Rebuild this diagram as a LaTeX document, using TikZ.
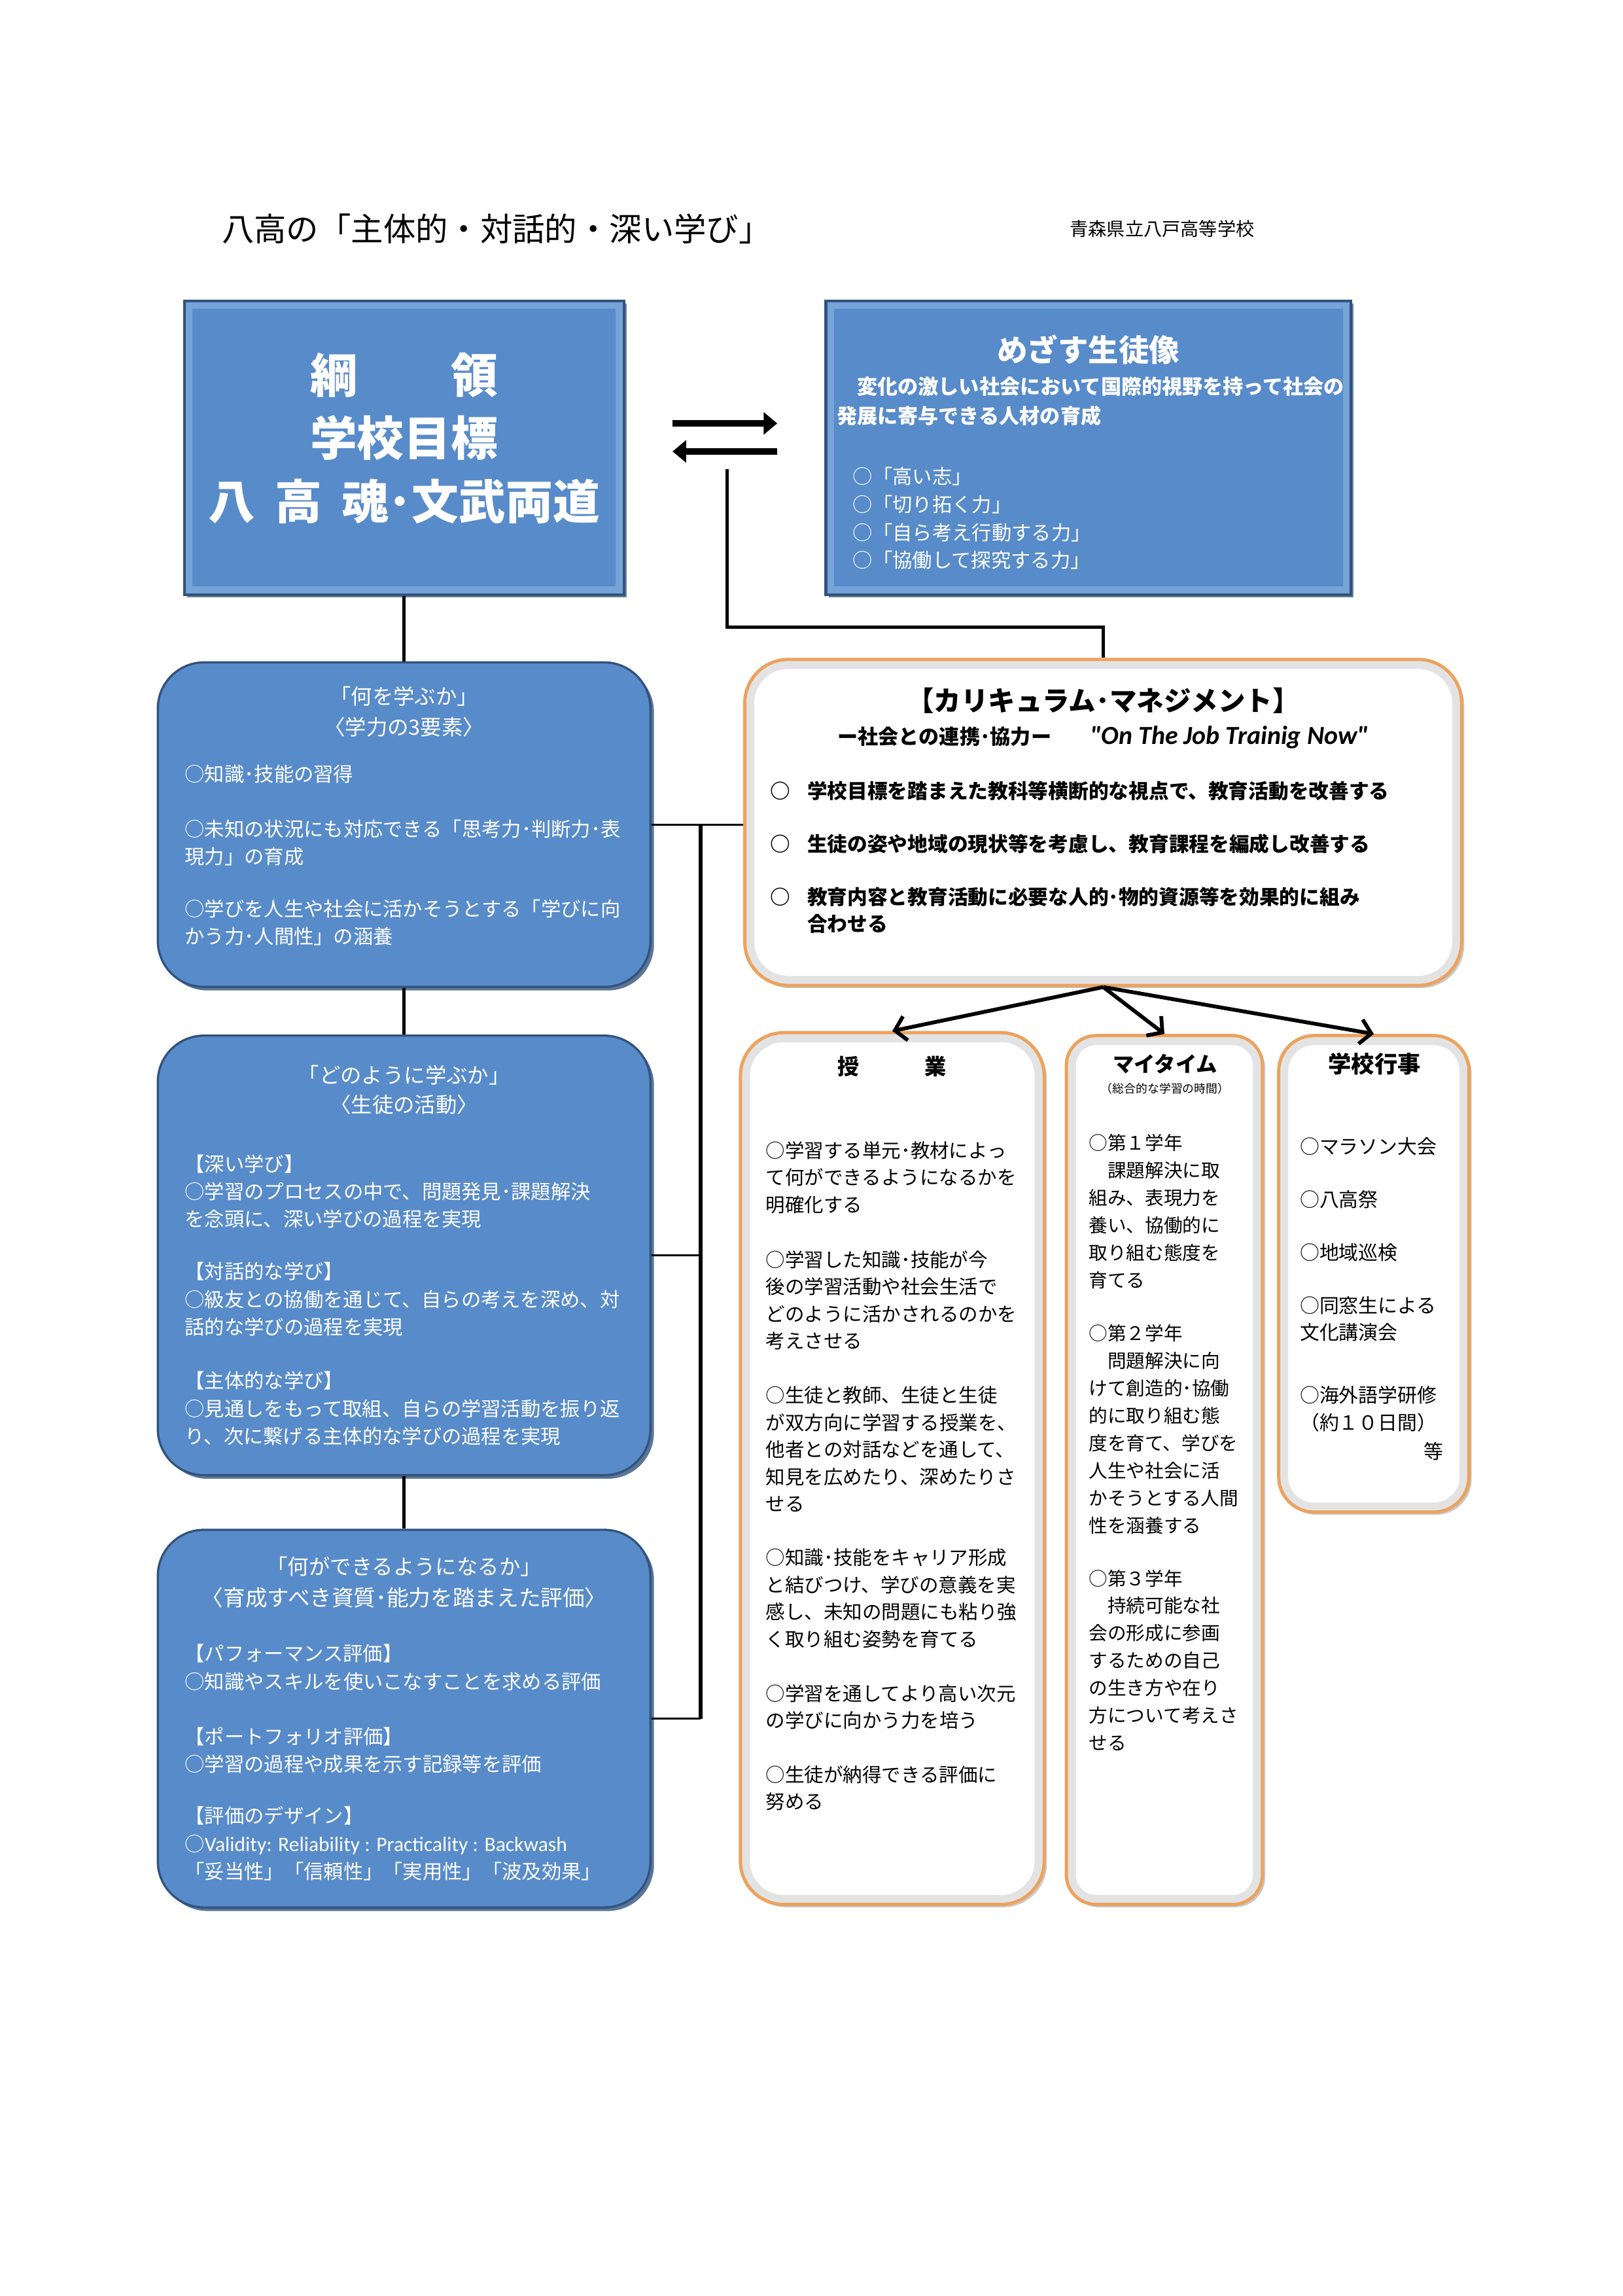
\documentclass[tikz,border=0pt]{standalone}
\usepackage{fontspec}
\setmainfont{Noto Sans CJK JP}
\newfontfamily\latinfont{Carlito}
\usetikzlibrary{arrows.meta,shadows}

\definecolor{boxblue}{RGB}{88,139,201}
\definecolor{boxdark}{RGB}{50,82,124}
\definecolor{boxlight}{RGB}{118,163,216}
\definecolor{frameorange}{RGB}{236,162,94}
\newcommand{\pxu}{0.019091cm}

\tikzset{
  boxsize/.style 2 args={minimum width={#1*\pxu}, minimum height={#2*\pxu}},
  bevelbox/.style={rectangle, fill=boxblue, draw=boxdark, line width=1pt, inner sep=0pt,
    path picture={\draw[boxlight, line width=6pt] (path picture bounding box.south west) rectangle (path picture bounding box.north east);},
    drop shadow={shadow xshift=1pt, shadow yshift=-1pt, fill=boxdark, opacity=0.7}},
  roundbox/.style={rectangle, rounded corners=17pt, fill=boxblue, draw=boxdark, line width=0.8pt, inner sep=0pt,
    drop shadow={shadow xshift=1.3pt, shadow yshift=-1.3pt, fill=boxdark, opacity=0.8}},
  orangebox/.style={rectangle, rounded corners=#1, fill=white, draw=frameorange, line width=1.2pt, inner sep=0pt,
    path picture={\draw[gray!22, line width=7pt, rounded corners=#1] (path picture bounding box.south west) rectangle (path picture bounding box.north east);},
    drop shadow={shadow xshift=1pt, shadow yshift=-1pt, fill=gray!70, opacity=0.6}},
  orangebox/.default=16pt,
  % texts
  whead/.style={text=white, inner sep=0pt, font=\fontsize{7.8}{10}\selectfont},
  wpara/.style={text=white, inner sep=0pt, anchor=north west, align=left, font=\fontsize{7.3}{10.2}\selectfont},
  cmtext/.style={inner sep=0pt, align=left, font=\bfseries\fontsize{7.4}{9.7}\selectfont},
  lessontext/.style={inner sep=0pt, anchor=north west, align=left, font=\fontsize{7.1}{10}\selectfont},
  mytext/.style={inner sep=0pt, anchor=north west, align=left, font=\fontsize{6.9}{10.1}\selectfont},
  eventtext/.style={inner sep=0pt, anchor=west, align=left, font=\fontsize{7.2}{10}\selectfont},
  % connectors
  link/.style={line width=1.3pt},
  tie/.style={line width=0.8pt},
  eqarrow/.style={line width=2.4pt, -{Triangle[length=5pt,width=8pt]}},
  branch/.style={line width=1.4pt, -{Straight Barb[length=4pt,width=9pt]}}
}

\begin{document}
\begin{tikzpicture}[x=\pxu, y=-\pxu]
\useasboundingbox (0,0) rectangle (1100,1556.4);

% header
\node [anchor=west, inner sep=0pt, font=\fontsize{11.9}{14}\selectfont] (title) at (150,155) {八高の「主体的・対話的・深い学び」};
\node [anchor=west, inner sep=0pt, font=\fontsize{6.8}{8}\selectfont] (school) at (725,155) {青森県立八戸高等学校};

% boxes
\node [bevelbox, boxsize={298}{199}] (goal) at (274,303.5) {};
\node [bevelbox, boxsize={356}{199}] (ideal) at (738,303.5) {};
\node [roundbox, boxsize={334}{220}] (what) at (274,559) {};
\node [roundbox, boxsize={334}{298}] (how) at (274,851) {};
\node [roundbox, boxsize={334}{256}] (can) at (274,1165) {};
\node [orangebox, boxsize={486}{221}] (curric) at (748,557.5) {};
\node [orangebox, boxsize={206}{591}] (lesson) at (605,995.5) {};
\node [orangebox=11pt, boxsize={133}{589}] (mytime) at (789.5,996.5) {};
\node [orangebox=13pt, boxsize={129}{323}] (event) at (931.5,863.5) {};

\coordinate (bus) at (475,559);
\coordinate (linkstart) at (493,318);
\coordinate (linkturn) at (493,425);
\coordinate (eqR1) at (456,287);
\coordinate (eqR2) at (527,287);
\coordinate (eqL1) at (527,306);
\coordinate (eqL2) at (456,306);

% connectors
\draw [link] (goal.south) -- (what.north);
\draw [link] (what.south) -- (how.north);
\draw [link] (how.south) -- (can.north);
\draw [tie] (what.east) -- (what.east -| curric.west);
\draw [link] (bus) -- (bus |- can.east);
\draw [tie] (how.east) -- (how.east -| bus);
\draw [tie] (can.east) -- (can.east -| bus);
\draw [link] (linkstart) -- (linkturn) -| (curric.north);
\draw [eqarrow] (eqR1) -- (eqR2);
\draw [eqarrow] (eqL1) -- (eqL2);
\draw [branch] (curric.south) -- (lesson.north);
\draw [branch] (curric.south) -- (mytime.north);
\draw [branch] (curric.south) -- (event.north);

% school goal
\node [text=white, inner sep=0pt, align=center, font=\bfseries\fontsize{17.3}{23.3}\selectfont] (goaltext) at (274,297) {綱　　領\\学校目標\\八\hspace{0.42em}高\hspace{0.42em}魂･文武両道};

% ideal student
\node [text=white, inner sep=0pt, font=\bfseries\fontsize{11.2}{13}\selectfont] (idealtitle) at (738,237) {めざす生徒像};
\node [text=white, inner sep=0pt, anchor=north west, align=left, font=\bfseries\fontsize{7.5}{10.8}\selectfont] (idealsub) at (567,255.1) {　変化の激しい社会において国際的視野を持って社会の\\発展に寄与できる人材の育成};
\node [text=white, inner sep=0pt, anchor=north west, align=left, font=\fontsize{7.3}{10.3}\selectfont] (idealitems) at (578,316.3) {○「高い志」\\○「切り拓く力」\\○「自ら考え行動する力」\\○「協働して探究する力」};

% what to learn
\node [whead] (whattitle) at (274,472) {「何を学ぶか」};
\node [whead] (whatsub) at (274,493) {〈学力の3要素〉};
\node [wpara] (what1) at (125,518.3) {○知識･技能の習得};
\node [wpara] (what2) at (125,555.3) {○未知の状況にも対応できる「思考力･判断力･表\\現力」の育成};
\node [wpara] (what3) at (125,609.3) {○学びを人生や社会に活かそうとする「学びに向\\かう力･人間性」の涵養};

% how to learn
\node [whead] (howtitle) at (274,729) {「どのように学ぶか」};
\node [whead] (howsub) at (274,749) {〈生徒の活動〉};
\node [wpara] (how1) at (125,782.3) {【深い学び】\\○学習のプロセスの中で、問題発見･課題解決\\を念頭に、深い学びの過程を実現};
\node [wpara] (how2) at (125,855.3) {【対話的な学び】\\○級友との協働を通じて、自らの考えを深め、対\\話的な学びの過程を実現};
\node [wpara] (how3) at (125,929.3) {【主体的な学び】\\○見通しをもって取組、自らの学習活動を振り返\\り、次に繋げる主体的な学びの過程を実現};

% what they can do
\node [whead] (cantitle) at (274,1062) {「何ができるようになるか」};
\node [whead, font=\fontsize{8.1}{10}\selectfont] (cansub) at (274,1083) {〈育成すべき資質･能力を踏まえた評価〉};
\node [wpara] (can1) at (125,1114.3) {【パフォーマンス評価】\\○知識やスキルを使いこなすことを求める評価};
\node [wpara] (can2) at (125,1170.3) {【ポートフォリオ評価】\\○学習の過程や成果を示す記録等を評価};
\node [wpara] (can3) at (125,1224.3) {【評価のデザイン】\\○{\latinfont\fontsize{7.6}{10.2}\selectfont Validity: Reliability : Practicality : Backwash}\\「妥当性」「信頼性」「実用性」「波及効果」};

% curriculum management
\node [inner sep=0pt, font=\bfseries\fontsize{10}{12}\selectfont] (cmtitle) at (748,475) {【カリキュラム･マネジメント】};
\node [inner sep=0pt, font=\bfseries\fontsize{7.5}{9}\selectfont] (cmsub) at (748,500) {ー社会との連携･協力ー\hspace{1.9em}{\latinfont\bfseries\itshape\fontsize{9.6}{10}\selectfont "On The Job Trainig Now"}};
\node [cmtext] (cmo1) at (529,536) {○};
\node [cmtext] (cmo2) at (529,572) {○};
\node [cmtext] (cmo3) at (529,608) {○};
\node [cmtext, anchor=west] (cm1) at (547,536) {学校目標を踏まえた教科等横断的な視点で、教育活動を改善する};
\node [cmtext, anchor=west] (cm2) at (547,572) {生徒の姿や地域の現状等を考慮し、教育課程を編成し改善する};
\node [cmtext, anchor=north west] (cm3) at (547,601.2) {教育内容と教育活動に必要な人的･物的資源等を効果的に組み\\合わせる};

% lessons
\node [inner sep=0pt, font=\bfseries\fontsize{8}{10}\selectfont] (lessontitle) at (605,723) {授　　　業};
\node [lessontext] (lesson1) at (519,773.4) {○学習する単元･教材によっ\\て何ができるようになるかを\\明確化する};
\node [lessontext] (lesson2) at (519,847.4) {○学習した知識･技能が今\\後の学習活動や社会生活で\\どのように活かされるのかを\\考えさせる};
\node [lessontext] (lesson3) at (519,939.4) {○生徒と教師、生徒と生徒\\が双方向に学習する授業を、\\他者との対話などを通して、\\知見を広めたり、深めたりさ\\せる};
\node [lessontext] (lesson4) at (519,1049.4) {○知識･技能をキャリア形成\\と結びつけ、学びの意義を実\\感し、未知の問題にも粘り強\\く取り組む姿勢を育てる};
\node [lessontext] (lesson5) at (519,1141.4) {○学習を通してより高い次元\\の学びに向かう力を培う};
\node [lessontext] (lesson6) at (519,1196.4) {○生徒が納得できる評価に\\努める};

% my time
\node [inner sep=0pt, font=\bfseries\fontsize{7.8}{10}\selectfont] (mytitle) at (790,721) {マイタイム};
\node [inner sep=0pt, font=\fontsize{4.3}{5}\selectfont] (mysub) at (790,738) {（総合的な学習の時間）};
\node [mytext] (my1) at (738,768.6) {○第１学年\\　課題解決に取\\組み、表現力を\\養い、協働的に\\取り組む態度を\\育てる};
\node [mytext] (my2) at (738,897.6) {○第２学年\\　問題解決に向\\けて創造的･協働\\的に取り組む態\\度を育て、学びを\\人生や社会に活\\かそうとする人間\\性を涵養する};
\node [mytext] (my3) at (738,1063.6) {○第３学年\\　持続可能な社\\会の形成に参画\\するための自己\\の生き方や在り\\方について考えさ\\せる};

% school events
\node [inner sep=0pt, font=\bfseries\fontsize{8.5}{10}\selectfont] (eventtitle) at (932,721) {学校行事};
\node [eventtext] (event1) at (881,777) {○マラソン大会};
\node [eventtext] (event2) at (881,813) {○八高祭};
\node [eventtext] (event3) at (881,849) {○地域巡検};
\node [eventtext, anchor=north west] (event4) at (881,878.3) {○同窓生による\\文化講演会};
\node [eventtext, anchor=north west] (event5) at (881,939.3) {○海外語学研修\\（約１０日間）};
\node [eventtext, anchor=east] (event6) at (979,984) {等};
\end{tikzpicture}
\end{document}
